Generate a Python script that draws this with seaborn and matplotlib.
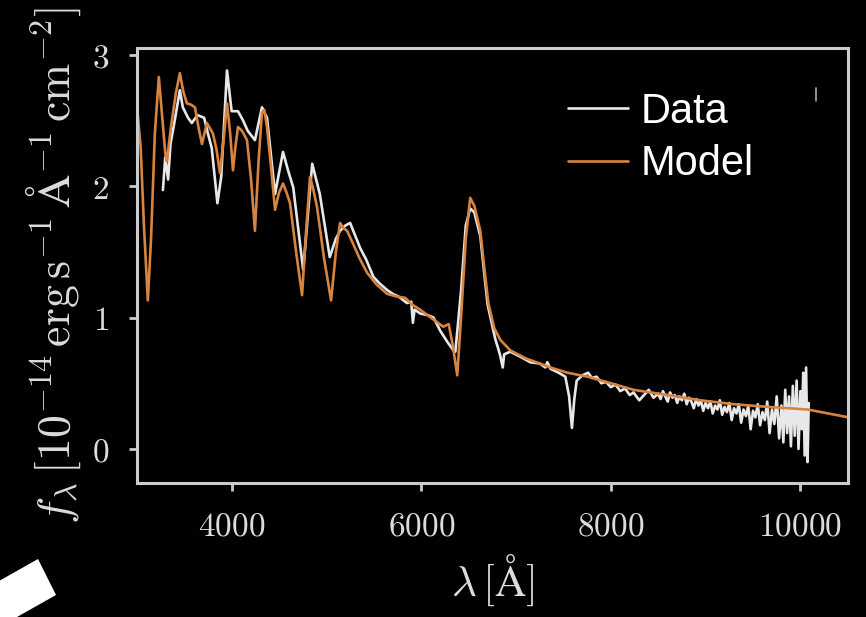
import matplotlib
matplotlib.use("Agg")
import matplotlib.pyplot as plt
import seaborn as sns
from matplotlib.patches import Polygon
from matplotlib.lines import Line2D
from matplotlib.ticker import FuncFormatter

# ============ Spectrum ============
data_wave = [
    3275, 3300, 3330, 3355, 3400, 3454, 3485, 3540, 3580, 3640, 3710, 3750,
    3790, 3850, 3890, 3951, 4000, 4067, 4120, 4170, 4246, 4320, 4373, 4458,
    4542, 4595, 4650, 4755, 4850, 4930, 5035, 5100, 5144, 5200, 5250, 5300,
    5355, 5420, 5495, 5560, 5640, 5700, 5760, 5850, 5895, 5912, 5930, 5990,
    6060, 6130, 6200, 6280, 6340, 6360, 6420, 6470, 6517, 6560, 6623, 6700,
    6780, 6830, 6860, 6875, 6940, 7050, 7150, 7250, 7310, 7330, 7363, 7450,
    7520, 7560, 7590, 7615, 7640, 7700, 7760, 7800, 7850, 7900, 7950, 8000,
    8050, 8100, 8150, 8200, 8239, 8300, 8350, 8400, 8450,
    8500, 8525, 8550, 8575, 8600, 8625, 8650, 8675, 8700, 8725, 8750, 8775,
    8800, 8825, 8850, 8875, 8900, 8925, 8950, 8975, 9000, 9025, 9050, 9075,
    9100, 9125, 9150, 9175, 9200, 9225, 9250, 9275, 9300, 9325, 9350, 9375,
    9400, 9425, 9450, 9475, 9500, 9525, 9550, 9575, 9600, 9625, 9650, 9675,
    9700, 9725, 9750, 9775, 9800, 9820, 9840, 9860, 9880, 9900, 9920, 9940,
    9960, 9980, 10000, 10015, 10030, 10045, 10060, 10075, 10088,
]
data_flux = [
    1.97, 2.22, 2.05, 2.32, 2.50, 2.73, 2.60, 2.52, 2.48, 2.54, 2.52, 2.40,
    2.29, 1.87, 2.07, 2.88, 2.57, 2.57, 2.50, 2.42, 2.35, 2.60, 2.52, 1.94,
    2.26, 2.12, 1.99, 1.36, 2.17, 1.94, 1.46, 1.60, 1.66, 1.70, 1.72, 1.63,
    1.53, 1.44, 1.31, 1.26, 1.21, 1.18, 1.16, 1.11, 1.12, 0.96, 1.06, 1.03,
    1.02, 1.00, 0.90, 0.81, 0.75, 0.74, 1.20, 1.70, 1.83, 1.80, 1.62, 1.10,
    0.84, 0.72, 0.62, 0.72, 0.74, 0.70, 0.66, 0.65, 0.62, 0.66, 0.61, 0.58,
    0.55, 0.40, 0.16, 0.38, 0.52, 0.56, 0.58, 0.54, 0.55, 0.50, 0.51, 0.47,
    0.49, 0.44, 0.46, 0.41, 0.43, 0.37, 0.41, 0.45, 0.39,
    0.42, 0.38, 0.44, 0.40, 0.36, 0.43, 0.39, 0.41, 0.35, 0.40, 0.37, 0.42,
    0.34, 0.39, 0.36, 0.31, 0.38, 0.33, 0.37, 0.29, 0.35, 0.31, 0.36, 0.27,
    0.33, 0.30, 0.37, 0.26, 0.32, 0.28, 0.35, 0.22, 0.31, 0.27, 0.34, 0.20,
    0.30, 0.25, 0.33, 0.15, 0.29, 0.24, 0.34, 0.18, 0.28, 0.22, 0.36, 0.12,
    0.30, 0.19, 0.40, 0.08, 0.33, 0.05, 0.45, 0.12, 0.40, 0.02, 0.48, 0.10,
    0.52, 0.00, 0.44, 0.15, 0.58, -0.05, 0.62, -0.10, 0.35,
]

model_wave = [
    3000, 3040, 3075, 3116, 3150, 3190, 3232, 3265, 3300, 3317, 3360, 3410,
    3454, 3490, 3528, 3570, 3613, 3650, 3687, 3739, 3803, 3840, 3877, 3915,
    3951, 3985, 4014, 4040, 4067, 4110, 4162, 4205, 4246, 4285, 4320, 4345,
    4373, 4415, 4458, 4500, 4542, 4580, 4616, 4680, 4743, 4785, 4827, 4860,
    4901, 4975, 5049, 5100, 5144, 5180, 5218, 5282, 5350, 5430, 5530, 5641,
    5740, 5831, 5900, 5989, 6100, 6232, 6290, 6330, 6380, 6420, 6470, 6517,
    6560, 6623, 6670, 6708, 6770, 6834, 6940, 7100, 7363, 7542, 7754, 8000,
    8239, 8600, 8947, 9300, 9655, 10077, 10510,
]
model_flux = [
    2.62, 2.30, 1.70, 1.13, 1.60, 2.40, 2.83, 2.55, 2.25, 2.19, 2.45, 2.70,
    2.86, 2.72, 2.63, 2.62, 2.60, 2.45, 2.32, 2.48, 2.40, 2.28, 2.10, 2.35,
    2.63, 2.40, 2.12, 2.30, 2.45, 2.42, 2.35, 2.05, 1.66, 2.20, 2.56, 2.58,
    2.45, 2.15, 1.82, 1.95, 2.02, 1.95, 1.87, 1.50, 1.17, 1.65, 2.07, 1.98,
    1.84, 1.45, 1.13, 1.50, 1.72, 1.68, 1.66, 1.56, 1.45, 1.34, 1.25, 1.18,
    1.16, 1.15, 1.10, 1.06, 1.00, 0.93, 0.95, 0.80, 0.56, 1.00, 1.60, 1.91,
    1.85, 1.66, 1.35, 1.11, 0.92, 0.83, 0.75, 0.69, 0.62, 0.58, 0.55, 0.50,
    0.45, 0.41, 0.37, 0.34, 0.32, 0.30, 0.24,
]

# ============ Style ============
frame = '#cccccc'
sns.set_style('dark', rc={
    'figure.facecolor': 'black',
    'axes.facecolor': 'black',
    'axes.edgecolor': frame,
    'xtick.color': frame,
    'ytick.color': frame,
    'xtick.bottom': True,
    'ytick.left': True,
    'axes.grid': False,
})
plt.rcParams['mathtext.fontset'] = 'cm'
plt.rcParams['font.family'] = ['DejaVu Serif']

fig = plt.figure(figsize=(8.66, 6.17), dpi=100)
ax = fig.add_axes([0.158, 0.217, 0.821, 0.705])

sns.lineplot(x=data_wave, y=data_flux, ax=ax, sort=False, estimator=None,
             color='#e8e8e8', linewidth=1.9, label='Data')
sns.lineplot(x=model_wave, y=model_flux, ax=ax, sort=False, estimator=None,
             color='#d6843f', linewidth=1.9, label='Model')

ax.set_xlim(3000, 10500)
ax.set_ylim(-0.26, 3.05)
ax.set_xticks([4000, 6000, 8000, 10000])
ax.set_yticks([0, 1, 2, 3])
math_fmt = FuncFormatter(lambda v, p: f'${v:.0f}$')
ax.xaxis.set_major_formatter(math_fmt)
ax.yaxis.set_major_formatter(math_fmt)
ax.tick_params(direction='out', length=6, width=2.0, labelsize=24,
               labelcolor='#dcdcdc')
ax.tick_params(axis='x', pad=14)
ax.tick_params(axis='y', pad=14)
for sp in ax.spines.values():
    sp.set_linewidth(2.2)
    sp.set_color(frame)

ax.set_xlabel(r'$\lambda\,[\mathrm{\AA}]$', fontsize=31, color='#dcdcdc', labelpad=6)
ax.set_ylabel(r'$f_\lambda\,[10^{-14}\,\mathrm{erg\,s^{-1}\,\AA^{-1}\,cm^{-2}}]$',
              fontsize=33, color='#dcdcdc', labelpad=6)

leg = ax.legend(loc='center left', bbox_to_anchor=(0.606, 0.793), frameon=False,
                prop={'family': 'Liberation Sans', 'size': 30},
                handlelength=1.45, handletextpad=0.3, labelspacing=0.3,
                borderpad=0, borderaxespad=0)
for t in leg.get_texts():
    t.set_color('white')

# stray marks in the reference image
W, H = 866, 617
fig.add_artist(Polygon([(38 / W, 1 - 559 / H), (56 / W, 1 - 595 / H),
                        (-6 / W, 1 - 630 / H), (-24 / W, 1 - 594 / H)],
                       closed=True, transform=fig.transFigure,
                       facecolor='white', edgecolor='none'))
fig.add_artist(Line2D([816 / W, 816 / W], [1 - 88 / H, 1 - 101 / H],
                      transform=fig.transFigure, color='#aaaaaa', linewidth=1.2))

fig.savefig('out.png', dpi=100, facecolor='black')
